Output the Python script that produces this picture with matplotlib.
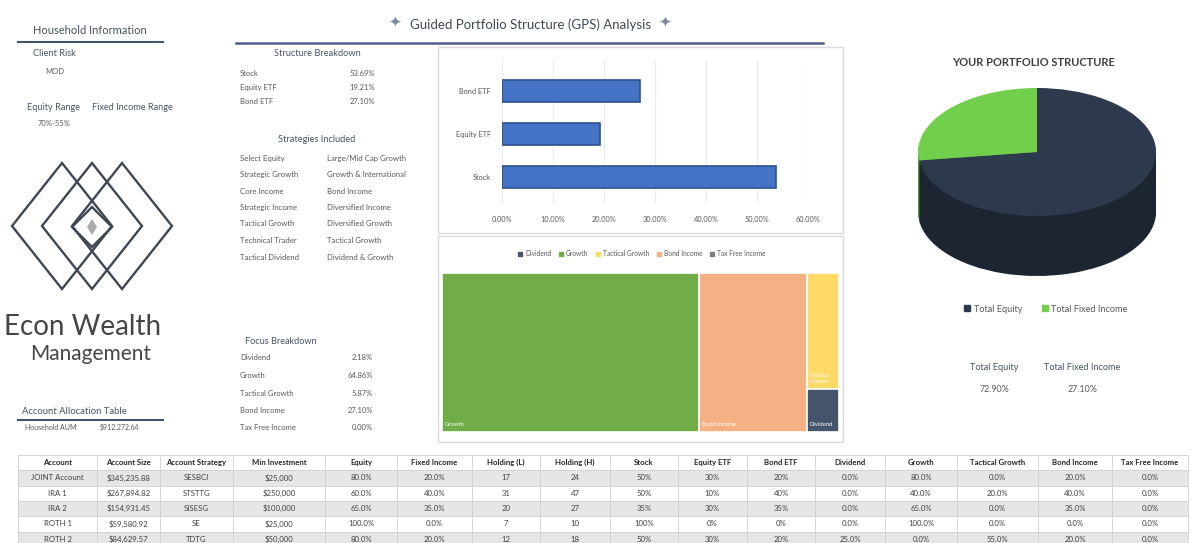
import matplotlib.pyplot as plt
from matplotlib.patches import Rectangle, Polygon, Patch
from matplotlib.ticker import FuncFormatter

plt.rcParams['font.family'] = ['Lato', 'DejaVu Sans']

W, H = 1200, 543

# ---- data ----
client_risk = 'MOD'
equity_range = '70%-55%'

structure_labels = ['Stock', 'Equity ETF', 'Bond ETF']
structure_values = [53.69, 19.21, 27.10]

strategies = ['Select Equity', 'Strategic Growth', 'Core Income', 'Strategic Income',
              'Tactical Growth', 'Technical Trader', 'Tactical Dividend']
strategy_styles = ['Large/Mid Cap Growth', 'Growth & International', 'Bond Income',
                   'Diversified Income', 'Diversified Growth', 'Tactical Growth', 'Dividend & Growth']

focus_labels = ['Dividend', 'Growth', 'Tactical Growth', 'Bond Income', 'Tax Free Income']
focus_values = [2.18, 64.86, 5.87, 27.10, 0.00]
focus_colors = ['#44546a', '#70ad47', '#ffd966', '#f4b183', '#7f7f7f']
# treemap columns (left to right), items stacked top to bottom
treemap_groups = [['Growth'], ['Bond Income'], ['Tactical Growth', 'Dividend']]

pie_labels = ['Total Equity', 'Total Fixed Income']
pie_values = [72.90, 27.10]
pie_top = ['#2d3a4e', '#72cf4b']
pie_side = ['#1c2531', '#4f9a31']

household_aum = '$912,272.64'

table_header = ['Account', 'Account Size', 'Account Strategy', 'Min Investment', 'Equity',
                'Fixed Income', 'Holding (L)', 'Holding (H)', 'Stock', 'Equity ETF', 'Bond ETF',
                'Dividend', 'Growth', 'Tactical Growth', 'Bond Income', 'Tax Free Income']
table_rows = [
    ['JOINT Account', '$345,235.88', 'SESBCI', '$25,000', '80.0%', '20.0%', '17', '24',
     '50%', '30%', '20%', '0.0%', '80.0%', '0.0%', '20.0%', '0.0%'],
    ['IRA 1', '$267,894.82', 'STSTTG', '$250,000', '60.0%', '40.0%', '31', '47',
     '50%', '10%', '40%', '0.0%', '40.0%', '20.0%', '40.0%', '0.0%'],
    ['IRA 2', '$154,931.45', 'SISESG', '$100,000', '65.0%', '35.0%', '20', '27',
     '35%', '30%', '35%', '0.0%', '65.0%', '0.0%', '35.0%', '0.0%'],
    ['ROTH 1', '$59,580.92', 'SE', '$25,000', '100.0%', '0.0%', '7', '10',
     '100%', '0%', '0%', '0.0%', '100.0%', '0.0%', '0.0%', '0.0%'],
    ['ROTH 2', '$84,629.57', 'TDTG', '$50,000', '80.0%', '20.0%', '12', '18',
     '50%', '30%', '20%', '25.0%', '0.0%', '55.0%', '20.0%', '0.0%'],
]
col_edges = [18, 97, 160, 233, 325, 397, 472, 540, 610, 678, 747, 815, 885, 957, 1038, 1112, 1188]

HEAD = '#44546a'
TXT = '#595959'

fig = plt.figure(figsize=(12, 5.43), dpi=100)
ax0 = fig.add_axes([0, 0, 1, 1])
ax0.set_xlim(0, W)
ax0.set_ylim(H, 0)
ax0.axis('off')


def px_axes(x0, y0, x1, y1):
    return fig.add_axes([x0 / W, 1 - y1 / H, (x1 - x0) / W, (y1 - y0) / H])


# ---- household info ----
ax0.text(33, 31, 'Household Information', fontsize=8, color=HEAD, va='center')
ax0.plot([18, 163], [42, 42], color=HEAD, lw=1.5)
ax0.text(33, 53, 'Client Risk', fontsize=6.7, color=HEAD, va='center')
ax0.text(45, 71, client_risk, fontsize=5.5, color=TXT, va='center')
ax0.text(27, 107, 'Equity Range', fontsize=6.6, color=HEAD, va='center')
ax0.text(92, 107, 'Fixed Income Range', fontsize=6.6, color=HEAD, va='center')
ax0.text(38, 123, equity_range, fontsize=5.5, color=TXT, va='center')

# logo
for cx in (62, 92, 122):
    ax0.add_patch(Polygon([(cx - 50, 226), (cx, 163), (cx + 50, 226), (cx, 289)],
                          closed=True, fill=False, ec='#3f4754', lw=1.7))
ax0.add_patch(Polygon([(72, 227), (92, 207), (112, 227), (92, 247)],
                      closed=True, fill=False, ec='#3f4754', lw=1.7))
ax0.add_patch(Polygon([(87, 227), (92, 219), (97, 227), (92, 235)],
                      closed=True, fc='#a9a9a9', ec='none'))
ax0.text(83, 327, 'Econ Wealth', fontsize=20, color='#454545', ha='center', va='center')
ax0.text(91, 354, 'Management', fontsize=15, color='#454545', ha='center', va='center')

ax0.text(22, 412, 'Account Allocation Table', fontsize=6.8, color=HEAD, va='center')
ax0.plot([18, 163], [420, 420], color=HEAD, lw=1.5)
ax0.text(25, 427, 'Household AUM', fontsize=5, color=TXT, va='center')
ax0.text(100, 427, household_aum, fontsize=5, color=TXT, va='center')

# ---- title ----
ax0.text(531, 25, 'Guided Portfolio Structure (GPS) Analysis', fontsize=9.5, color='#3c4a5c',
         ha='center', va='center')
for sx in (395, 665):
    ax0.text(sx, 22, '\u2726', fontsize=11, color='#7a8aa2', ha='center', va='center',
             family=['DejaVu Sans'])
ax0.plot([236, 823], [43, 43], color='#4e5d8c', lw=1.8)

# ---- structure / strategies / focus text ----
ax0.text(317, 53, 'Structure Breakdown', fontsize=6.7, color=HEAD, ha='center', va='center')
for i, (lab, val) in enumerate(zip(structure_labels, structure_values)):
    y = 73 + i * 14.5
    ax0.text(240, y, lab, fontsize=5.5, color=TXT, va='center')
    ax0.text(375, y, f'{val:.2f}%', fontsize=5.5, color=TXT, va='center', ha='right')

ax0.text(317, 140, 'Strategies Included', fontsize=6.7, color=HEAD, ha='center', va='center')
for i, (s, st) in enumerate(zip(strategies, strategy_styles)):
    y = 158 + i * 16.5
    ax0.text(240, y, s, fontsize=5.6, color=TXT, va='center')
    ax0.text(327, y, st, fontsize=5.6, color=TXT, va='center')

ax0.text(245, 342, 'Focus Breakdown', fontsize=6.6, color=HEAD, va='center')
for i, (lab, val) in enumerate(zip(focus_labels, focus_values)):
    y = 358 + i * 17.5
    ax0.text(240, y, lab, fontsize=5.5, color=TXT, va='center')
    ax0.text(373, y, f'{val:.2f}%', fontsize=5.5, color=TXT, va='center', ha='right')

# ---- bar chart ----
ax0.add_patch(Rectangle((438, 47), 405, 186, fill=False, ec='#d9d9d9', lw=1))
axb = px_axes(502, 60, 808, 203)
ypos = list(range(len(structure_labels)))
axb.barh(ypos, [v / 100 for v in structure_values], height=0.51, color='#4472c4',
         edgecolor='#2f528f', lw=1.2, zorder=3)
axb.set_xlim(0, 0.6)
axb.set_ylim(-0.605, 2.72)
axb.set_xticks([i / 10 for i in range(7)])
axb.xaxis.set_major_formatter(FuncFormatter(lambda v, p: f'{v * 100:.2f}%'))
axb.set_yticks(ypos)
axb.set_yticklabels(structure_labels)
axb.tick_params(length=0, labelsize=5.3, labelcolor=TXT)
axb.tick_params(axis='x', pad=9)
axb.tick_params(axis='y', pad=8)
axb.grid(axis='x', color='#ececec', lw=0.8, zorder=0)
for sp in axb.spines.values():
    sp.set_visible(False)
axb.patch.set_alpha(0)

# ---- treemap ----
ax0.add_patch(Rectangle((438, 236), 405, 206, fill=False, ec='#d9d9d9', lw=1))
axt = px_axes(442, 273, 839, 432)
fval = dict(zip(focus_labels, focus_values))
fcol = dict(zip(focus_labels, focus_colors))
total = sum(fval[n] for g in treemap_groups for n in g)
x = 0
for g in treemap_groups:
    gw = sum(fval[n] for n in g)
    top = 1.0
    for n in g:
        h = fval[n] / gw
        axt.add_patch(Rectangle((x, top - h), gw, h, fc=fcol[n], ec='white', lw=1.2))
        lab = n if len(g) == 1 or n == 'Dividend' else n.replace(' ', '\n')
        axt.text(x + total * 0.006, top - h + 0.03, lab, fontsize=4.2, color='white',
                 va='bottom', ha='left')
        top -= h
    x += gw
axt.set_xlim(0, total)
axt.set_ylim(0, 1)
axt.axis('off')
axt.legend([Patch(color=c) for c in focus_colors], focus_labels, loc='center',
           bbox_to_anchor=(642, 254), bbox_transform=ax0.transData, ncol=5, frameon=False,
           fontsize=4.8, handlelength=0.6, handleheight=0.6, columnspacing=1.2,
           handletextpad=0.4, labelcolor=TXT)

# ---- 3D pie ----
ax0.text(1033, 63, 'YOUR PORTFOLIO STRUCTURE', fontsize=8, fontweight='bold', color='#404040',
         ha='center', va='center')
axp = px_axes(905, 80, 1170, 290)
depth = 60 / 64
n_layers = 30
for k in range(n_layers + 1):
    off = -depth * (1 - k / n_layers)
    cols = pie_top if k == n_layers else pie_side
    axp.pie(pie_values, colors=cols, startangle=90, counterclock=False, center=(0, off),
            wedgeprops=dict(linewidth=0))
axp.set_aspect('auto')
axp.set_xlim((905 - 1037) / 119, (1170 - 1037) / 119)
axp.set_ylim(-(290 - 152) / 64, (152 - 80) / 64)
axp.axis('off')
axp.legend([Patch(color=c) for c in pie_top], pie_labels, loc='center',
           bbox_to_anchor=(1046, 309), bbox_transform=ax0.transData, ncol=2, frameon=False,
           fontsize=6.6, handlelength=0.6, handleheight=0.6, columnspacing=2.2,
           handletextpad=0.4, labelcolor=TXT)

for cx, lab, val in zip((994, 1082), pie_labels, pie_values):
    ax0.text(cx, 368, lab, fontsize=6.6, color=HEAD, ha='center', va='center')
    ax0.text(cx, 390, f'{val:.2f}%', fontsize=6.4, color=TXT, ha='center', va='center')

# ---- table ----
rh = 15.3
t0 = 455
for r, row in enumerate([table_header] + table_rows):
    top = t0 + r * rh
    if r % 2 == 1:
        ax0.add_patch(Rectangle((col_edges[0], top), col_edges[-1] - col_edges[0], rh,
                                fc='#e7e6e6', ec='none'))
    ax0.plot([col_edges[0], col_edges[-1]], [top, top], color='#d0d0d0', lw=0.6)
    for j, val in enumerate(row):
        cx = (col_edges[j] + col_edges[j + 1]) / 2
        ax0.text(cx, top + rh / 2, val, fontsize=5.6, color='#262626' if r == 0 else '#404040',
                 fontweight='bold' if r == 0 else 'normal', ha='center', va='center')
for e in col_edges:
    ax0.plot([e, e], [t0, H], color='#d0d0d0', lw=0.6)

fig.savefig('out.png', dpi=100)
